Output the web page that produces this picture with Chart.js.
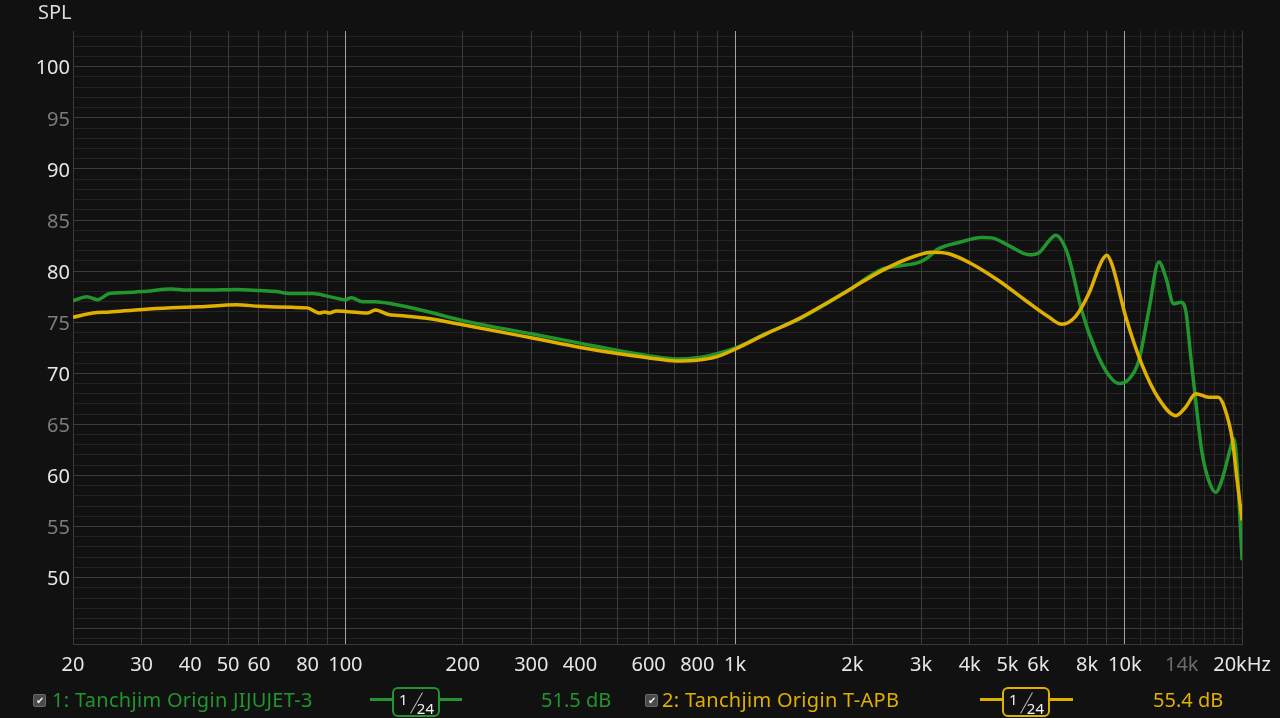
<!DOCTYPE html>
<html>
<head>
<meta charset="utf-8">
<script src="https://cdn.jsdelivr.net/npm/chart.js@4/dist/chart.umd.min.js"></script>
<style>
  html, body { margin: 0; padding: 0; background: #111111; }
  #wrap { position: relative; width: 1280px; height: 718px; overflow: hidden; font-family: "Noto Sans", "Open Sans", sans-serif; }
  #fr { position: absolute; left: 0; top: 0; }
  .spl { position: absolute; left: 38px; top: -2px; font-size: 20px; color: #dcdcdc; }
  .chk { position: absolute; top: 694px; width: 11px; height: 11px; border-radius: 2px; background: #4a4a4a; border: 1px solid #6a6a6a; color: #f0f0f0; font-size: 10px; line-height: 11px; text-align: center; }
  .name, .lvl { position: absolute; top: 686px; font-size: 20px; white-space: nowrap; }
  .name { letter-spacing: 0.3px; }
  .smooth { position: absolute; top: 698px; height: 3px; }
  .box { position: absolute; top: 687px; width: 44px; height: 26px; border: 2px solid; border-radius: 6px; background: #111111; color: #f0f0f0; }
  .box .n1 { position: absolute; left: 5px; top: 0px; font-size: 15px; }
  .box .n2 { position: absolute; right: 4px; bottom: -3px; font-size: 15px; }
  .box .sl { position: absolute; left: 22px; top: 2px; width: 1px; height: 24px; background: #bbbbbb; transform: rotate(30deg); }
</style>
</head>
<body>
<div id="wrap">
  <canvas id="fr" width="1280" height="718"></canvas>
  <div class="spl">SPL</div>

  <div class="chk" style="left:33px">&#10004;</div>
  <div class="name" style="left:52px; color:#22962e">1: Tanchjim Origin JIJUJET-3</div>
  <div class="smooth" style="left:370px; width:92px; background:#22962e"></div>
  <div class="box" style="left:392px; border-color:#22962e"><span class="n1">1</span><span class="sl"></span><span class="n2">24</span></div>
  <div class="lvl" style="left:541px; color:#22962e">51.5 dB</div>

  <div class="chk" style="left:645px">&#10004;</div>
  <div class="name" style="left:662px; color:#e0b000">2: Tanchjim Origin T-APB</div>
  <div class="smooth" style="left:980px; width:93px; background:#e0b000"></div>
  <div class="box" style="left:1002px; border-color:#e0b000"><span class="n1">1</span><span class="sl"></span><span class="n2">24</span></div>
  <div class="lvl" style="left:1153px; color:#e0b000">55.4 dB</div>
</div>

<script>
// Frequency response (Hz / dB SPL)
const jijujetFreq = [20, 21.7, 23.1, 24.8, 27.4, 30.2, 35.8, 39.1, 44.8, 52.5, 60.2, 66.5, 71.9, 82.3, 91,
    100, 103.6, 110.6, 119.4, 131.2, 160, 200, 302, 405, 504, 602, 706, 808, 894, 1006, 1201, 1459, 1742,
    1960, 2382, 2634, 2964, 3089, 3334, 3754, 4299, 4560, 5040, 5675, 6019, 6384, 6655, 6895, 7186, 7758,
    8426, 9098, 9652, 10235, 10860, 11520, 12228, 12740, 13352, 13916, 14340, 14770, 15206, 15755, 16420,
    17115, 17730, 18700, 19030, 19380, 19836, 20000];
const jijujetSpl = [77.1, 77.5, 77.2, 77.8, 77.9, 78.0, 78.25, 78.15, 78.15, 78.2, 78.1, 78.0, 77.8, 77.8, 77.5,
    77.2, 77.4, 77.0, 77.0, 76.8, 76.1, 75.15, 73.85, 72.9, 72.2, 71.7, 71.4, 71.55, 71.9, 72.5, 73.9, 75.3, 76.95,
    78.15, 80.2, 80.5, 80.85, 81.2, 82.2, 82.8, 83.3, 83.25, 82.5, 81.6, 81.8, 82.95, 83.5, 82.95, 81.3, 76.1,
    72.2, 69.8, 69.0, 69.4, 71.2, 76.1, 80.9, 79.4, 76.8, 76.95, 76.1, 71.55, 67.3, 62.4, 59.5,
    58.35, 59.5, 62.75, 63.6, 61.4, 54.3, 51.7];

const tapbFreq = [20, 22.5, 24.8, 30.2, 35.8, 42.2, 52.5, 60.2, 73.1, 79.9, 85.8, 88.5, 91, 94.8, 100, 108, 114,
    119.4, 128.9, 137.5, 160, 200, 302, 405, 504, 602, 706, 808, 894, 1006, 1201, 1459, 1742, 1960, 2382,
    2912, 3200, 3537, 4052, 4752, 5573, 6384, 6895, 7489, 8085, 8730, 8992, 9260, 10060, 11054, 12228, 13510,
    14340, 15206, 16420, 17360, 18000, 18900, 19380, 20000];
const tapbSpl = [75.47, 75.9, 76.0, 76.25, 76.4, 76.5, 76.7, 76.55, 76.45, 76.4, 75.9, 76.0, 75.9, 76.1, 76.05, 75.95, 75.9,
    76.2, 75.75, 75.65, 75.4, 74.75, 73.45, 72.5, 71.9, 71.5, 71.2, 71.3, 71.6, 72.4, 73.85, 75.35, 77.0, 78.15, 80.05,
    81.5, 81.85, 81.7, 80.7, 79.05, 77.1, 75.5, 74.8, 75.6, 77.8, 81.0, 81.55, 80.7, 75.5, 70.9, 67.5, 65.85,
    66.7, 68.0, 67.65, 67.65, 66.7, 63.4, 59.8, 55.6];

// Axis grid and labels
const freqGrid = [20, 30, 40, 50, 60, 70, 80, 90, 100, 200, 300, 400, 500, 600, 700, 800, 900, 1000,
    2000, 3000, 4000, 5000, 6000, 7000, 8000, 9000, 10000, 11000, 12000, 13000, 14000, 15000, 16000,
    17000, 18000, 19000, 20000];
const freqLabels = { 20: '20', 30: '30', 40: '40', 50: '50', 60: '60', 80: '80', 100: '100', 200: '200',
    300: '300', 400: '400', 600: '600', 800: '800', 1000: '1k', 2000: '2k', 3000: '3k', 4000: '4k',
    5000: '5k', 6000: '6k', 8000: '8k', 10000: '10k', 14000: '14k', 20000: '20kHz' };
const splLabels = [50, 55, 60, 65, 70, 75, 80, 85, 90, 95, 100];

const toPoints = (xs, ys) => xs.map((x, i) => ({ x, y: ys[i] }));

Chart.defaults.font.family = '"Noto Sans", "Open Sans", sans-serif';

new Chart(document.getElementById('fr'), {
    type: 'line',
    data: {
        datasets: [
            {
                label: '1: Tanchjim Origin JIJUJET-3',
                data: toPoints(jijujetFreq, jijujetSpl),
                borderColor: '#22962e',
                borderWidth: 3.5,
                pointRadius: 0,
                cubicInterpolationMode: 'monotone',
                order: 2,
            },
            {
                label: '2: Tanchjim Origin T-APB',
                data: toPoints(tapbFreq, tapbSpl),
                borderColor: '#e0b000',
                borderWidth: 3.5,
                pointRadius: 0,
                cubicInterpolationMode: 'monotone',
                order: 1,
            },
        ],
    },
    options: {
        responsive: false,
        animation: false,
        layout: { padding: { top: 31, right: 37, left: 0, bottom: 0 } },
        plugins: { legend: { display: false }, tooltip: { enabled: false } },
        scales: {
            x: {
                type: 'logarithmic',
                min: 20,
                max: 20000,
                afterBuildTicks: (s) => { s.ticks = freqGrid.map(v => ({ value: v })); },
                afterFit: (s) => { s.height = 74; },
                border: { color: '#3a3a3a' },
                grid: {
                    z: -1,
                    drawTicks: false,
                    color: (ctx) => {
                        const v = ctx.tick && ctx.tick.value;
                        if (v === 100 || v === 1000 || v === 10000) return '#a4a4a4';
                        if (v > 10000 && v < 20000) return '#2a2a2a';
                        return '#3a3a3a';
                    },
                },
                ticks: {
                    autoSkip: false,
                    maxRotation: 0,
                    padding: 9,
                    font: { size: 20 },
                    color: (ctx) => ctx.tick && ctx.tick.value === 14000 ? '#6c6c6c' : '#e6e6e6',
                    callback: (v) => freqLabels[v] || '',
                },
            },
            y: {
                min: 43.5,
                max: 103.5,
                afterBuildTicks: (s) => {
                    const t = [];
                    for (let v = 44; v <= 103; v++) t.push({ value: v });
                    s.ticks = t;
                },
                afterFit: (s) => { s.width = 73; },
                border: { color: '#3a3a3a' },
                grid: {
                    z: -2,
                    drawTicks: false,
                    color: (ctx) => ctx.tick && ctx.tick.value % 5 === 0 ? '#3c3c3c' : '#242424',
                },
                ticks: {
                    autoSkip: false,
                    padding: 3,
                    labelOffset: 2,
                    font: { size: 20 },
                    color: (ctx) => ctx.tick && ctx.tick.value % 10 === 0 ? '#e6e6e6' : '#7c7c7c',
                    callback: (v) => splLabels.includes(v) ? String(v) : '',
                },
            },
        },
    },
});
</script>
</body>
</html>
